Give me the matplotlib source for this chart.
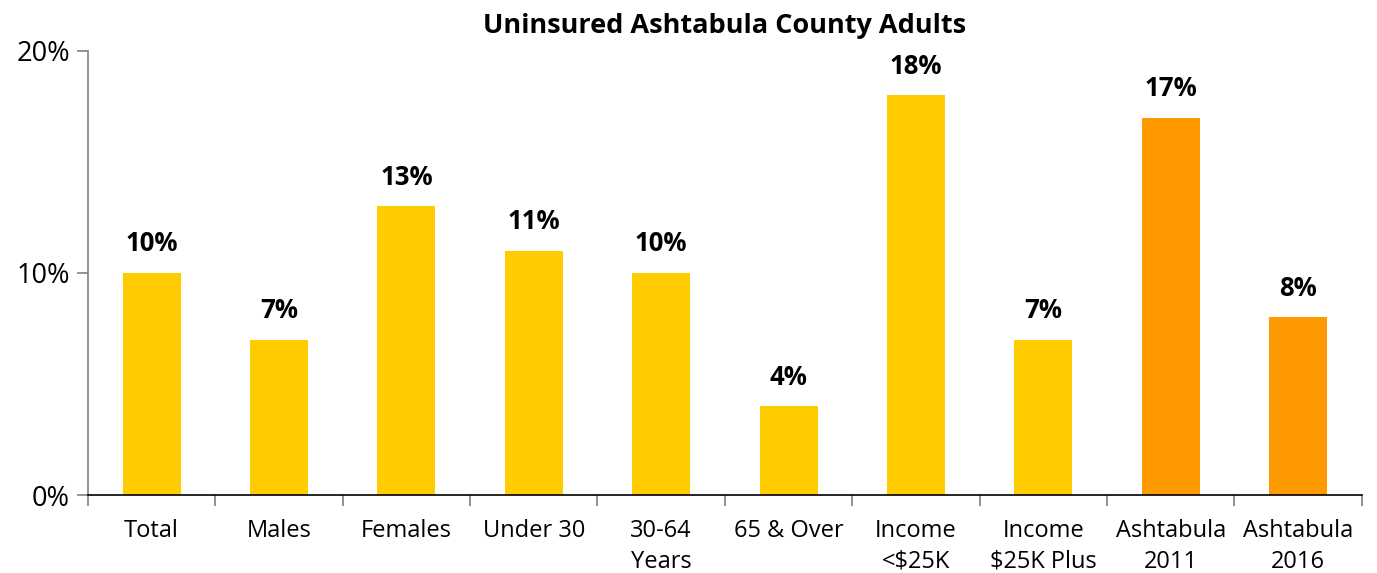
import matplotlib
matplotlib.use('Agg')
import matplotlib.pyplot as plt
import numpy as np

plt.rcParams['font.family'] = ['Open Sans', 'DejaVu Sans']

categories = ['Total', 'Males', 'Females', 'Under 30', '30-64\nYears', '65 & Over',
              'Income\n<$25K', 'Income\n$25K Plus', 'Ashtabula\n2011', 'Ashtabula\n2016']
values = [10, 7, 13, 11, 10, 4, 18, 7, 17, 8]
colors = ['#FFCC00'] * 8 + ['#FF9900'] * 2

fig = plt.figure(figsize=(13.77, 5.73), dpi=100)
ax = fig.add_axes([0.0639, 0.1361, 0.925, 0.775])

x = np.arange(len(categories))
ax.bar(x, values, width=0.455, color=colors, zorder=2)

for xi, v in zip(x, values):
    ax.text(xi, v + 0.7, f'{v}%', ha='center', va='bottom',
            fontsize=18.5, fontweight='bold')

ax.set_xlim(-0.5, len(categories) - 0.5)
ax.set_ylim(0, 20)
ax.set_yticks([0, 10, 20])
ax.set_yticklabels(['0%', '10%', '20%'], fontsize=19.5)
ax.set_xticks(x)
ax.set_xticklabels(categories, fontsize=17, linespacing=1.4)
ax.tick_params(axis='x', length=0, pad=17)
ax.set_xticks(np.arange(-0.5, len(categories)), minor=True)
ax.tick_params(axis='x', which='minor', length=8, color='#808080', width=1.2)
ax.tick_params(axis='y', length=8, color='#808080', width=1.2, pad=5)

for s in ['top', 'right']:
    ax.spines[s].set_visible(False)
ax.spines['left'].set_color('#808080')
ax.spines['left'].set_linewidth(1.2)
ax.spines['bottom'].set_color('black')
ax.spines['bottom'].set_linewidth(1.2)

ax.set_title('Uninsured Ashtabula County Adults', fontsize=19.5, fontweight='bold', pad=13)

fig.savefig('out.png', dpi=100)
